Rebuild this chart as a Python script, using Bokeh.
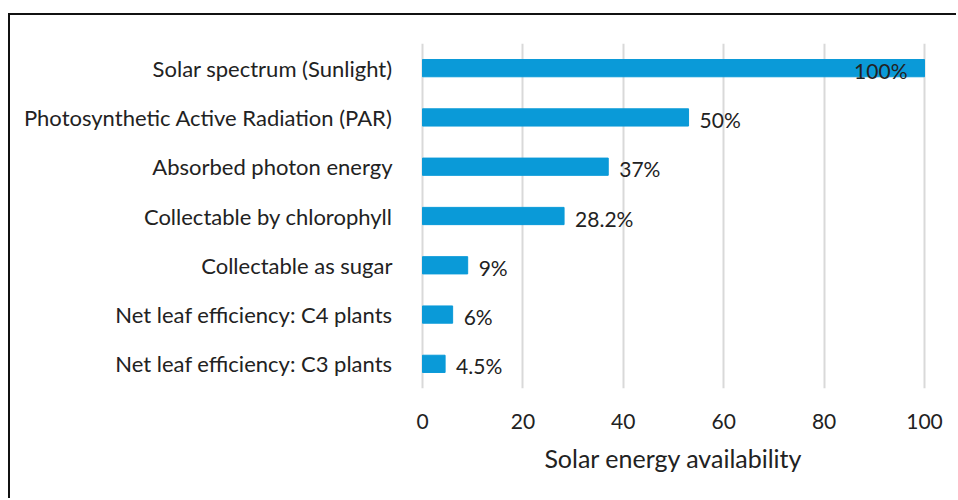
from bokeh.plotting import figure
from bokeh.models import ColumnDataSource, Range1d, FixedTicker
from bokeh.core.properties import value
from bokeh.embed import file_html
from bokeh.resources import INLINE

categories = [
    "Solar spectrum (Sunlight)",
    "Photosynthetic Active Radiation (PAR)",
    "Absorbed photon energy",
    "Collectable by chlorophyll",
    "Collectable as sugar",
    "Net leaf efficiency: C4 plants",
    "Net leaf efficiency: C3 plants",
]
# bar lengths as drawn in the picture (the PAR bar is drawn a bit past 50)
values = [100, 53, 37, 28.2, 9, 6, 4.5]
value_labels = ["100%", "50%", "37%", "28.2%", "9%", "6%", "4.5%"]
x_ticks = [0, 20, 40, 60, 80, 100]

FONT = "Lato"
TXT = "#222222"

factors = list(reversed(categories))

inside = [v >= 90 for v in values]
src = ColumnDataSource(dict(
    cat=categories,
    val=values,
    lab=value_labels,
    align=["right" if i else "left" for i in inside],
    xoff=[-17 if i else 11 for i in inside],
))

p = figure(
    width=948, height=485,
    y_range=factors,
    x_range=Range1d(-0.4, 100.4),
    output_backend="svg", toolbar_location=None,
    min_border_left=410, min_border_right=32,
    min_border_top=28, min_border_bottom=112,
)
p.styles = {
    "border-top": "2px solid #111111",
    "border-left": "2px solid #111111",
    "border-right": "none",
    "border-bottom": "none",
    "margin-top": "13px",
    "margin-left": "8px",
}

p.outline_line_color = None
p.background_fill_color = "white"
p.border_fill_color = "white"

p.hbar(y="cat", right="val", left=0, height=0.35, source=src,
       fill_color="#0A9AD8", line_color="#0A9AD8", line_width=1)

p.text(x="val", y="cat", text="lab", source=src,
       text_align="align", x_offset="xoff", y_offset=2,
       text_baseline="middle", text_font=value(FONT),
       text_font_size="21px", text_color=TXT)

p.xgrid.ticker = FixedTicker(ticks=x_ticks)
p.xgrid.grid_line_color = "#D9D9D9"
p.xgrid.grid_line_width = 2
p.ygrid.grid_line_color = None

p.xaxis.ticker = FixedTicker(ticks=x_ticks)
p.xaxis.axis_line_color = None
p.xaxis.major_tick_line_color = None
p.xaxis.minor_tick_line_color = None
p.xaxis.major_label_standoff = 19
p.xaxis.major_label_text_font = FONT
p.xaxis.major_label_text_font_size = "21px"
p.xaxis.major_label_text_color = TXT
p.xaxis.axis_label = "Solar energy availability"
p.xaxis.axis_label_text_font = FONT
p.xaxis.axis_label_text_font_size = "25px"
p.xaxis.axis_label_text_font_style = "normal"
p.xaxis.axis_label_text_color = TXT
p.xaxis.axis_label_standoff = 11

p.yaxis.axis_line_color = None
p.yaxis.major_tick_line_color = None
p.yaxis.minor_tick_line_color = None
p.yaxis.major_label_standoff = 22
p.yaxis.major_label_text_font = FONT
p.yaxis.major_label_text_font_size = "22px"
p.yaxis.major_label_text_color = TXT

open("out.html", "w").write(file_html(p, INLINE))
